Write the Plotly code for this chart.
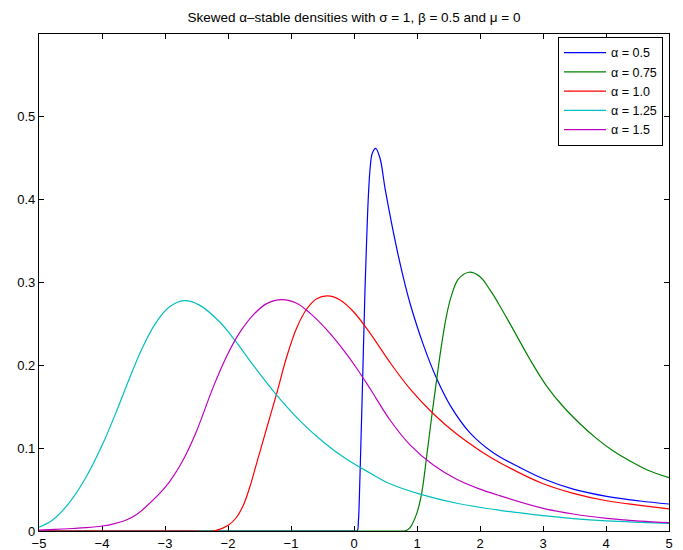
import plotly.graph_objects as go

# alpha = 0.5 (blue)
x_a050 = [-5, -4, -3, -2, -1, -0.5, -0.2, 0, 0.05, 0.07, 0.085, 0.1, 0.122, 0.148, 0.175, 0.201, 0.228,
          0.255, 0.29, 0.344, 0.413, 0.492, 0.598, 0.704, 0.799, 0.889, 1.1, 1.312, 1.524, 1.841,
          2.21, 2.635, 3.005, 3.48, 4.01, 4.54, 5]
y_a050 = [0, 0, 0, 0, 0, 0, 0, 0, 0, 0.012, 0.040, 0.080, 0.140, 0.215, 0.292, 0.352, 0.404,
          0.437, 0.456, 0.462, 0.450, 0.414, 0.371, 0.332, 0.301, 0.275, 0.225, 0.184, 0.152, 0.1185,
          0.0945, 0.0765, 0.0630, 0.0505, 0.0418, 0.0362, 0.0326]

# alpha = 0.75 (green)
x_a075 = [-5, -4, -3, -2, -1, 0, 0.4, 0.65, 0.78, 0.84, 0.889, 0.995, 1.074, 1.153, 1.233, 1.312, 1.392,
          1.471, 1.55, 1.656, 1.825, 2.0, 2.159, 2.29, 2.5, 2.794, 3.058, 3.323, 3.587, 3.852, 4.116,
          4.381, 4.646, 5]
y_a075 = [0, 0, 0, 0, 0, 0, 0, 0, 0, 0.001, 0.004, 0.021, 0.0455, 0.0897, 0.138, 0.183, 0.226,
          0.261, 0.285, 0.304, 0.3124, 0.307, 0.291, 0.275, 0.247, 0.207, 0.175, 0.150, 0.1295, 0.1115, 0.0965,
          0.0845, 0.074, 0.0644]

# alpha = 1.0 (red)
x_a100 = [-5, -4.5, -4, -3.5, -3, -2.6, -2.23, -1.995, -1.87, -1.757, -1.65, -1.545, -1.386, -1.227,
          -1.069, -0.910, -0.751, -0.592, -0.423, -0.222, -0.011, 0.254, 0.571, 0.889, 1.259, 1.630,
          2.0, 2.317, 3.005, 3.48, 4.01, 4.54, 5]
y_a100 = [0, 0, 0, 0, 0, 0, 0, 0.007, 0.016, 0.031, 0.054, 0.082, 0.124, 0.166,
          0.210, 0.245, 0.268, 0.2805, 0.2838, 0.279, 0.265, 0.239, 0.2035, 0.1715, 0.1415, 0.117,
          0.097, 0.0825, 0.057, 0.0455, 0.0365, 0.031, 0.0266]

# alpha = 1.25 (cyan)
x_a125 = [-5, -4.79, -4.524, -4.26, -3.995, -3.783, -3.571, -3.36, -3.148, -2.937, -2.698, -2.46,
          -2.127, -1.889, -1.598, -1.227, -0.857, -0.487, -0.116, 0.254, 0.571, 1.048, 1.63, 2.317,
          3.005, 3.48, 4.01, 4.54, 5]
y_a125 = [0.0045, 0.013, 0.0337, 0.064, 0.104, 0.142, 0.183, 0.221, 0.251, 0.270, 0.278, 0.273,
          0.252, 0.230, 0.200, 0.164, 0.133, 0.1075, 0.0865, 0.070, 0.057, 0.0445, 0.0335, 0.025,
          0.0185, 0.015, 0.0122, 0.0105, 0.0093]

# alpha = 1.5 (magenta)
x_a150 = [-5, -4.75, -4.47, -4.25, -3.995, -3.8, -3.624, -3.45, -3.306, -2.989, -2.725, -2.513,
          -2.233, -2.021, -1.81, -1.598, -1.386, -1.148, -0.910, -0.698, -0.434, -0.169, 0.042, 0.254,
          0.571, 0.889, 1.259, 1.63, 2.0, 2.317, 3.005, 3.48, 4.01, 4.54, 5]
y_a150 = [0.001, 0.002, 0.003, 0.004, 0.006, 0.009, 0.013, 0.020, 0.029, 0.0535, 0.084, 0.118,
          0.174, 0.211, 0.240, 0.261, 0.2745, 0.2794, 0.275, 0.263, 0.243, 0.2186, 0.1965, 0.172,
          0.134, 0.104, 0.0797, 0.0625, 0.0505, 0.0425, 0.0274, 0.0205, 0.0153, 0.012, 0.010]

names = ["α = 0.5", "α = 0.75", "α = 1.0", "α = 1.25", "α = 1.5"]
colors = ["#0000ff", "#008000", "#ff0000", "#00bfbf", "#bf00bf"]
series = [(x_a050, y_a050), (x_a075, y_a075), (x_a100, y_a100), (x_a125, y_a125), (x_a150, y_a150)]

x_ticks = [-5, -4, -3, -2, -1, 0, 1, 2, 3, 4, 5]
x_tick_text = ["\u22125", "\u22124", "\u22123", "\u22122", "\u22121", "0", "1", "2", "3", "4", "5"]
y_ticks = [0, 0.1, 0.2, 0.3, 0.4, 0.5]
y_tick_text = ["0", "0.1", "0.2", "0.3", "0.4", "0.5"]

fig = go.Figure()
for (xs, ys), nm, c in zip(series, names, colors):
    fig.add_trace(go.Scatter(x=xs, y=ys, mode="lines", name=nm,
                             line=dict(color=c, width=1.2, shape="spline", smoothing=1.0)))

font_family = "Liberation Sans, Arial, Helvetica, sans-serif"
axis_common = dict(showgrid=False, zeroline=False, showline=True, linecolor="black", linewidth=1.2,
                   mirror="ticks", ticks="inside", ticklen=5, tickcolor="black", tickwidth=1,
                   automargin=False,
                   tickfont=dict(family=font_family, size=13, color="black"), layer="below traces")

# page body has an 8px margin: size the figure so the plot box lands where the reference has it
fig.update_layout(
    width=675, height=542,
    margin=dict(l=31, r=14, t=26, b=19),
    paper_bgcolor="white", plot_bgcolor="white",
    title=dict(text="Skewed α–stable densities with σ = 1, β = 0.5 and μ = 0",
               x=(31 + 661) / 2 / 675, xanchor="center", y=1 - 9 / 542, yanchor="middle",
               yref="container", font=dict(family=font_family, size=13.5, color="black")),
    xaxis=dict(range=[-5, 5], tickvals=x_ticks, ticktext=x_tick_text, **axis_common),
    yaxis=dict(range=[0, 0.6], tickvals=y_ticks, ticktext=y_tick_text, **axis_common),
    legend=dict(x=0.9905, xanchor="right", y=0.994, yanchor="top", bgcolor="white",
                bordercolor="black", borderwidth=1, tracegroupgap=0, itemwidth=42,
                font=dict(family=font_family, size=12.5, color="black")),
    showlegend=True,
)

fig.write_html("out.html")
